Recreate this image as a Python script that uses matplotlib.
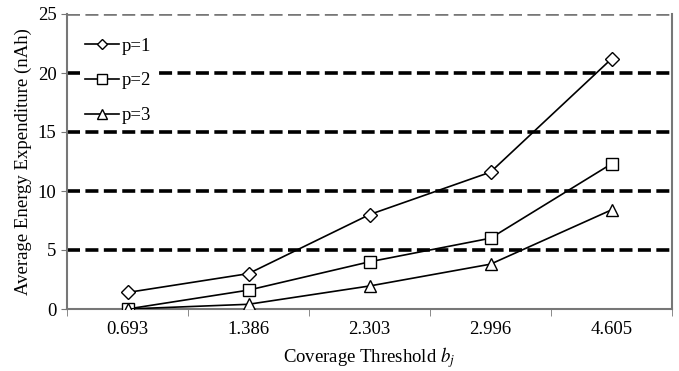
import numpy as np
import matplotlib; matplotlib.use("Agg"); import matplotlib.pyplot as plt

plt.rcParams["font.family"] = ["Liberation Serif", "DejaVu Serif"]
plt.rcParams["mathtext.fontset"] = "stix"

thresholds = ["0.693", "1.386", "2.303", "2.996", "4.605"]
p1 = [1.4, 3.0, 8.0, 11.6, 21.2]
p2 = [0.0, 1.6, 4.0, 6.0, 12.3]
p3 = [0.0, 0.4, 1.95, 3.8, 8.4]
labels = ["p=1", "p=2", "p=3"]
markers = ["D", "s", "^"]

fig = plt.figure(figsize=(6.79, 3.71), dpi=100)
ax = fig.add_axes([67/679, 62/371, 605/679, 295/371])
x = np.arange(len(thresholds))
for y, lab, m in zip([p1, p2, p3], labels, markers):
    ms = 7 if m == "D" else 9
    ax.plot(x, y, color="black", lw=1.2, marker=m, ms=ms, mfc="white", mec="black", mew=1.0, label=lab, zorder=3)

for v in (5, 10, 15, 20):
    ax.axhline(v, color="black", lw=2.6, ls=(0, (3.6, 1.5)), zorder=1)
ax.axhline(25, color="#777777", lw=2.6, ls=(0, (3.6, 1.5)), zorder=1)

ax.set_xlim(-0.5, 4.5)
ax.set_ylim(0, 25)
ax.set_xticks(x)
ax.set_xticklabels(thresholds)
ax.set_xticks(np.arange(-0.5, 5, 1), minor=True)
ax.tick_params(axis="x", which="major", length=0, labelsize=13.5, pad=9)
ax.tick_params(axis="x", which="minor", length=5, color="#777777", direction="out")
ax.set_yticks(range(0, 26, 5))
ax.tick_params(axis="y", length=4, color="#777777", labelsize=13.5)
for s in ax.spines.values():
    s.set_color("#777777"); s.set_linewidth(1.5)
ax.spines["top"].set_visible(False)
ax.set_xlabel("Coverage Threshold $b_j$", fontsize=13.5, labelpad=5)
ax.set_ylabel("Average Energy Expenditure (nAh)", fontsize=13.5, labelpad=4)
leg = ax.legend(loc="upper left", bbox_to_anchor=(0.01, 0.962), frameon=True, fontsize=13.5,
                handlelength=1.8, handletextpad=0.15, labelspacing=0.95, borderpad=0.15, markerscale=0.8)
leg.get_frame().set_edgecolor("none"); leg.get_frame().set_facecolor("white"); leg.get_frame().set_alpha(1)
leg.set_zorder(5)
fig.savefig("out.png", dpi=100)
